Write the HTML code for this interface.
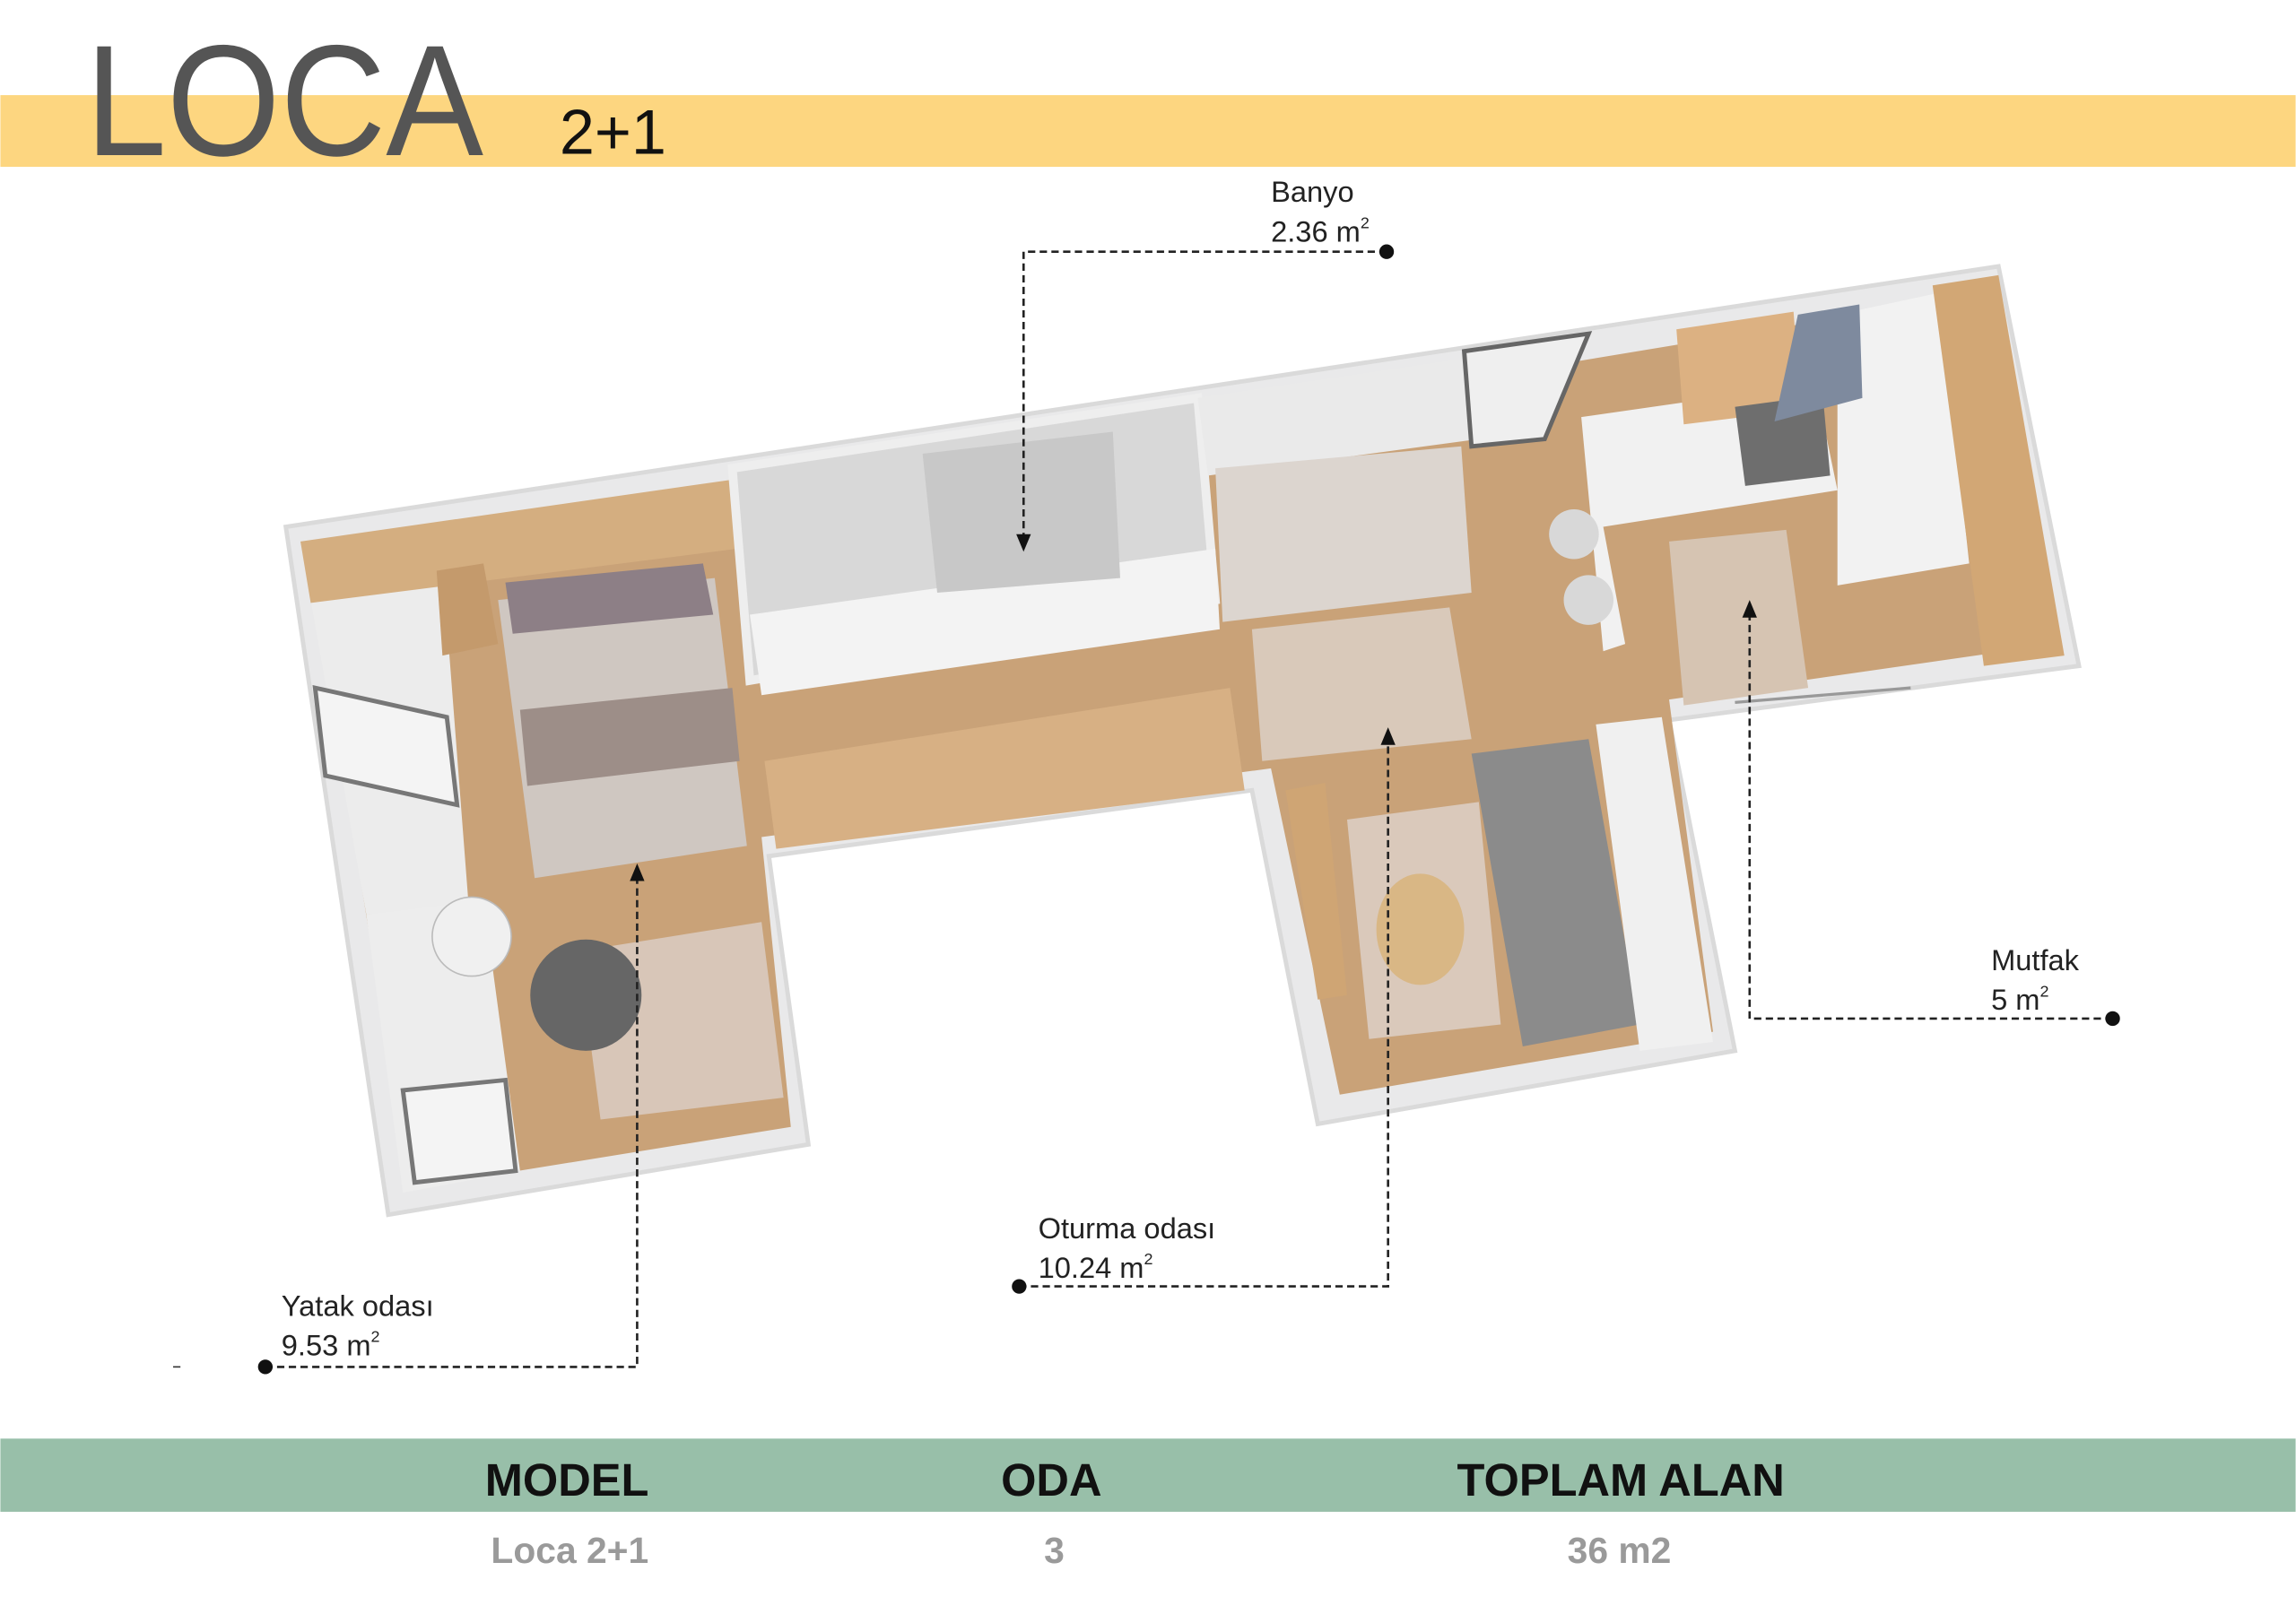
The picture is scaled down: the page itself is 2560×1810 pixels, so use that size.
<!DOCTYPE html>
<html><head><meta charset="utf-8"><style>
html,body{margin:0;padding:0;background:#fff;}
svg{display:block}
</style></head><body>
<svg width="2560" height="1810" viewBox="0 0 1568 1109" xmlns="http://www.w3.org/2000/svg" font-family="Liberation Sans, sans-serif">
<rect width="1568" height="1109" fill="#fff"/>
<rect x="0" y="65" width="1568" height="49" fill="#FDD680"/>
<text x="58" y="106" font-size="108" fill="#555" textLength="272" lengthAdjust="spacingAndGlyphs">LOCA</text>
<text x="382" y="105" font-size="43" fill="#111">2+1</text>

<polygon points="195,360 1365,182 1420,455 1140,492 1185,718 900,768 855,540 525,585 552,782 265,830" fill="#E9E9EA" stroke="#DADADA" stroke-width="3"/>
<polygon points="212,390 1330,205 1405,440 1140,478 1170,705 915,748 868,525 520,572 540,770 280,812" fill="#C9A278"/>
<polygon points="205,370 300,360 320,620 250,625" fill="#ECECEC"/>
<polygon points="250,625 330,615 355,800 275,815" fill="#EDEDED"/>
<polygon points="215,470 305,490 312,550 222,530" fill="#F4F4F4" stroke="#777" stroke-width="3"/>
<polygon points="275,745 345,738 352,800 283,808" fill="#F4F4F4" stroke="#777" stroke-width="3"/>
<polygon points="205,370 498,328 503,375 212,412" fill="#D4AE80"/>
<polygon points="298,390 330,385 340,440 302,448" fill="#C49A6C"/>
<polygon points="340,410 488,395 510,578 365,600" fill="#CFC7C1"/>
<polygon points="345,398 480,385 487,420 350,433" fill="#8D7F86"/>
<polygon points="355,485 500,470 505,520 360,537" fill="#9D8E88"/>
<polygon points="395,650 520,630 535,750 410,765" fill="#D8C6B8"/>
<circle cx="400" cy="680" r="38" fill="#666"/>
<circle cx="322" cy="640" r="27" fill="#F0F0F0" stroke="#bbb"/>
<polygon points="500,320 818,272 830,410 512,465" fill="#D8D8D8" stroke="#EEE" stroke-width="6"/>
<polygon points="512,420 830,375 833,430 520,475" fill="#F3F3F3"/>
<polygon points="630,310 760,295 765,395 640,405" fill="#C8C8C8"/>
<polygon points="522,520 840,470 850,540 530,580" fill="#D7B084"/>
<polygon points="818,272 1000,245 1010,300 825,325" fill="#EAEAEA"/>
<polygon points="830,320 998,305 1005,405 835,425" fill="#DCD5CF"/>
<polygon points="1000,240 1085,228 1055,300 1005,305" fill="#EFEFEF" stroke="#666" stroke-width="3"/>
<polygon points="855,430 990,415 1005,505 862,520" fill="#D9C9BA"/>
<polygon points="920,560 1010,548 1025,700 935,710" fill="#DAC9BB"/>
<polygon points="1005,515 1085,505 1120,700 1040,715" fill="#8B8B8B"/>
<polygon points="1090,495 1135,490 1170,712 1120,718" fill="#F0F0F0"/>
<ellipse cx="970" cy="635" rx="30" ry="38" fill="#D9B785"/>
<polygon points="878,540 905,535 920,680 900,683" fill="#CFA574"/>
<polygon points="1080,285 1240,262 1255,335 1095,360 1110,440 1095,445" fill="#F1F1F1"/>
<polygon points="1255,215 1325,200 1345,385 1255,400" fill="#F2F2F2"/>
<polygon points="1320,195 1365,188 1410,448 1355,455" fill="#D2A775"/>
<polygon points="1140,370 1220,362 1235,470 1150,482" fill="#D6C4B2"/>
<polygon points="1145,225 1225,213 1230,280 1150,290" fill="#DCB182"/>
<polygon points="1185,278 1245,270 1250,325 1192,332" fill="#6E6E6E"/>
<polygon points="1228,215 1270,208 1272,272 1212,288" fill="#7E8A9E"/>
<circle cx="1075" cy="365" r="17" fill="#D8D8D8"/>
<circle cx="1085" cy="410" r="17" fill="#D8D8D8"/>
<line x1="1185" y1="480" x2="1305" y2="470" stroke="#999" stroke-width="2"/>

<g fill="none" stroke="#222" stroke-width="1.6" stroke-dasharray="5,3">
<polyline points="947,172 699,172 699,370"/>
<polyline points="1443,696 1195,696 1195,418"/>
<polyline points="696,879 948,879 948,505"/>
<polyline points="181,934 435,934 435,598"/>
</g>
<g fill="#111">
<circle cx="947" cy="172" r="5"/><circle cx="1443" cy="696" r="5"/>
<circle cx="696" cy="879" r="5"/><circle cx="181" cy="934" r="5"/>
<polygon points="694,365 704,365 699,377"/>
<polygon points="1190,422 1200,422 1195,410"/>
<polygon points="943,509 953,509 948,497"/>
<polygon points="430,602 440,602 435,590"/>
</g>
<g font-size="20" fill="#222">
<text x="868" y="138">Banyo</text>
<text x="868" y="165">2.36 m<tspan font-size="11" dy="-9">2</tspan></text>
<text x="1360" y="663">Mutfak</text>
<text x="1360" y="690">5 m<tspan font-size="11" dy="-9">2</tspan></text>
<text x="709" y="846">Oturma odası</text>
<text x="709" y="873">10.24 m<tspan font-size="11" dy="-9">2</tspan></text>
<text x="192" y="899">Yatak odası</text>
<text x="192" y="926">9.53 m<tspan font-size="11" dy="-9">2</tspan></text>
</g>
<line x1="118" y1="934" x2="123" y2="934" stroke="#333"/>

<rect x="0" y="983" width="1568" height="50" fill="#98BFA9"/>
<g font-weight="bold" font-size="31" fill="#111" text-anchor="middle">
<text x="387" y="1022">MODEL</text>
<text x="718" y="1022">ODA</text>
<text x="1107" y="1022">TOPLAM ALAN</text>
</g>
<g font-weight="bold" font-size="25" fill="#9a9a9a" text-anchor="middle">
<text x="389" y="1068">Loca 2+1</text>
<text x="720" y="1068">3</text>
<text x="1106" y="1068">36 m2</text>
</g>
</svg>
</body></html>
